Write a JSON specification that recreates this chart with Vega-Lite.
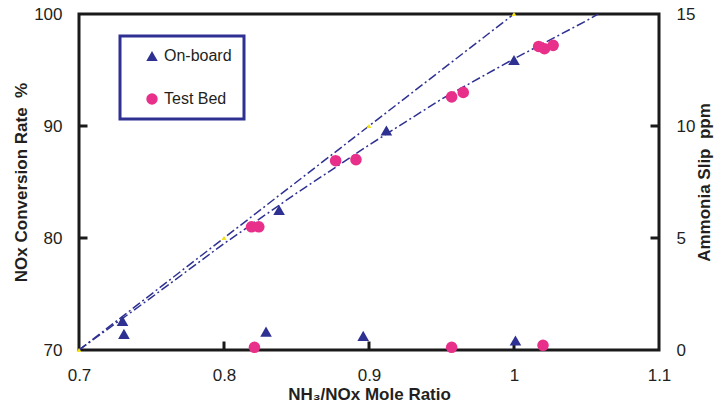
{
  "$schema": "https://vega.github.io/schema/vega-lite/v6.json",
  "width": 580,
  "height": 336,
  "autosize": {"type": "none"},
  "padding": {"left": 79, "top": 14, "right": 65, "bottom": 54},
  "background": "white",
  "config": {
    "view": {"stroke": null},
    "legend": {"strokeWidth": 3},
    "axis": {
      "grid": false,
      "domain": false,
      "ticks": false,
      "labelFlush": false,
      "labelFont": "Liberation Sans",
      "labelFontSize": 17,
      "labelColor": "#231f20",
      "titleFont": "Liberation Sans",
      "titleFontSize": 17,
      "titleFontWeight": "bold",
      "titleColor": "#231f20"
    }
  },
  "datasets": {
    "conv": [
      {"ratio": 0.73, "value": 72.6, "source": "On-board"},
      {"ratio": 0.838, "value": 82.5, "source": "On-board"},
      {"ratio": 0.912, "value": 89.6, "source": "On-board"},
      {"ratio": 1.0, "value": 95.9, "source": "On-board"},
      {"ratio": 0.819, "value": 81.0, "source": "Test Bed"},
      {"ratio": 0.824, "value": 81.0, "source": "Test Bed"},
      {"ratio": 0.877, "value": 86.9, "source": "Test Bed"},
      {"ratio": 0.891, "value": 87.0, "source": "Test Bed"},
      {"ratio": 0.957, "value": 92.6, "source": "Test Bed"},
      {"ratio": 0.965, "value": 93.0, "source": "Test Bed"},
      {"ratio": 1.017, "value": 97.1, "source": "Test Bed"},
      {"ratio": 1.021, "value": 96.9, "source": "Test Bed"},
      {"ratio": 1.027, "value": 97.2, "source": "Test Bed"}
    ],
    "slip": [
      {"ratio": 0.731, "slip": 0.72, "source": "On-board"},
      {"ratio": 0.829, "slip": 0.82, "source": "On-board"},
      {"ratio": 0.896, "slip": 0.63, "source": "On-board"},
      {"ratio": 1.001, "slip": 0.42, "source": "On-board"},
      {"ratio": 0.821, "slip": 0.12, "source": "Test Bed"},
      {"ratio": 0.957, "slip": 0.12, "source": "Test Bed"},
      {"ratio": 1.02, "slip": 0.21, "source": "Test Bed"}
    ],
    "lines": [
      {"ratio": 0.7, "value": 70, "line": "stoich"},
      {"ratio": 1.0, "value": 100, "line": "stoich"},
      {"ratio": 0.7, "value": 70, "line": "fit"},
      {"ratio": 0.75, "value": 74.7, "line": "fit"},
      {"ratio": 0.8, "value": 79.5, "line": "fit"},
      {"ratio": 0.85, "value": 84.0, "line": "fit"},
      {"ratio": 0.9, "value": 88.3, "line": "fit"},
      {"ratio": 0.95, "value": 92.4, "line": "fit"},
      {"ratio": 1.0, "value": 96.0, "line": "fit"},
      {"ratio": 1.05, "value": 99.4, "line": "fit"},
      {"ratio": 1.058, "value": 100, "line": "fit"}
    ],
    "yellow": [
      {"ratio": 0.7, "value": 70},
      {"ratio": 0.8, "value": 80},
      {"ratio": 0.9, "value": 90},
      {"ratio": 1.0, "value": 100}
    ],
    "xticks": [{"t": 0.8}, {"t": 0.9}, {"t": 1.0}],
    "yticks": [{"t": 80}, {"t": 90}],
    "slipticks": [{"t": 5}, {"t": 10}]
  },
  "layer": [
    {
      "layer": [
        {
          "data": {"values": [{}]},
          "mark": {"type": "rect", "fill": null, "stroke": "#1a1a1a", "strokeWidth": 3, "fillOpacity": 0},
          "encoding": {
            "x": {"datum": 0.7, "type": "quantitative", "scale": {"domain": [0.7, 1.1], "nice": false, "zero": false}},
            "x2": {"datum": 1.1},
            "y": {"datum": 70, "type": "quantitative"},
            "y2": {"datum": 100}
          }
        },
        {
          "data": {"name": "xticks"},
          "mark": {"type": "tick", "orient": "vertical", "color": "#1a1a1a", "thickness": 3, "size": 9, "yOffset": -4, "opacity": 1},
          "encoding": {
            "x": {"field": "t", "type": "quantitative", "scale": {"domain": [0.7, 1.1], "nice": false, "zero": false}},
            "y": {"datum": 70, "type": "quantitative"}
          }
        },
        {
          "data": {"name": "yticks"},
          "mark": {"type": "tick", "orient": "horizontal", "color": "#1a1a1a", "thickness": 3, "size": 9, "xOffset": 4, "opacity": 1},
          "encoding": {
            "y": {"field": "t", "type": "quantitative"},
            "x": {"datum": 0.7, "type": "quantitative", "scale": {"domain": [0.7, 1.1], "nice": false, "zero": false}}
          }
        },
        {
          "data": {"name": "lines"},
          "mark": {"type": "line", "color": "#2e3192", "strokeWidth": 1.5, "strokeDash": [9, 3, 2, 3], "clip": true},
          "encoding": {
            "x": {"field": "ratio", "type": "quantitative"},
            "y": {"field": "value", "type": "quantitative"},
            "detail": {"field": "line"}
          }
        },
        {
          "data": {"name": "yellow"},
          "mark": {"type": "point", "shape": "triangle-up", "filled": true, "color": "#f5e31a", "size": 24, "opacity": 1},
          "encoding": {
            "x": {"field": "ratio", "type": "quantitative"},
            "y": {"field": "value", "type": "quantitative"}
          }
        },
        {
          "data": {"name": "conv"},
          "mark": {"type": "point", "filled": true, "opacity": 1, "size": 135},
          "encoding": {
            "x": {"field": "ratio", "type": "quantitative",
              "scale": {"domain": [0.7, 1.1], "nice": false, "zero": false},
              "axis": {"values": [0.7, 0.8, 0.9, 1.0, 1.1], "format": ".1~f", "title": "NH₃/NOx Mole Ratio", "labelPadding": 17, "titlePadding": 3}},
            "y": {"field": "value", "type": "quantitative",
              "scale": {"domain": [70, 100], "nice": false, "zero": false},
              "axis": {"values": [70, 80, 90, 100], "title": "NOx Conversion Rate \u00a0%", "labelPadding": 17, "titlePadding": 3}},
            "shape": {"field": "source", "type": "nominal",
              "scale": {"domain": ["On-board", "Test Bed"], "range": ["triangle-up", "circle"]},
              "legend": {
                "orient": "none", "legendX": 41, "legendY": 22, "title": null,
                "strokeColor": "#2e3192", "padding": 12, "symbolOffset": 12,
                "rowPadding": 27, "labelFontSize": 16, "labelColor": "#231f20", "labelFont": "Liberation Sans",
                "symbolSize": 130, "labelOffset": 4
              }},
            "color": {"field": "source", "type": "nominal",
              "scale": {"domain": ["On-board", "Test Bed"], "range": ["#2e3192", "#e8308a"]}}
          }
        }
      ]
    },
    {
      "layer": [
        {
          "data": {"name": "slipticks"},
          "mark": {"type": "tick", "orient": "horizontal", "color": "#1a1a1a", "thickness": 3, "size": 9, "xOffset": -4, "opacity": 1},
          "encoding": {
            "y": {"field": "t", "type": "quantitative"},
            "x": {"datum": 1.1, "type": "quantitative", "scale": {"domain": [0.7, 1.1], "nice": false, "zero": false}}
          }
        },
        {
          "data": {"name": "slip"},
          "mark": {"type": "point", "filled": true, "opacity": 1, "size": 135},
          "encoding": {
            "x": {"field": "ratio", "type": "quantitative"},
            "y": {"field": "slip", "type": "quantitative",
              "scale": {"domain": [0, 15], "nice": false, "zero": false},
              "axis": {"orient": "right", "values": [0, 5, 10, 15], "title": "Ammonia Slip \u00a0ppm", "labelPadding": 17, "titlePadding": 2, "titleAngle": 270, "titleBaseline": "top"}},
            "shape": {"field": "source", "type": "nominal"},
            "color": {"field": "source", "type": "nominal"}
          }
        }
      ]
    }
  ],
  "resolve": {"scale": {"y": "independent"}}
}
